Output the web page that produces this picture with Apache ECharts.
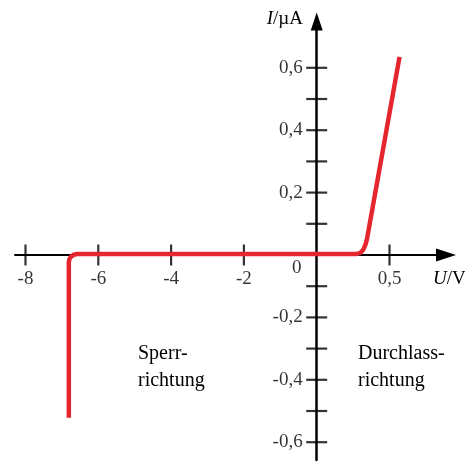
<!DOCTYPE html>
<html><head><meta charset="utf-8">
<script src="https://cdn.jsdelivr.net/npm/echarts@6/dist/echarts.min.js"></script>
<style>html,body{margin:0;padding:0;background:#fff}#c{width:465px;height:462px}</style>
</head><body><div id="c"></div>
<script>
// tick values (U in V, I in µA)
const xTickValues = [-8, -6, -4, -2, 0.5];
const xTickLabels = ['-8', '-6', '-4', '-2', '0,5'];
const yTickValues = [0.6, 0.4, 0.2, -0.2, -0.4, -0.6];
const yTickLabels = ['0,6', '0,4', '0,2', '-0,2', '-0,4', '-0,6'];
const yMinorTickValues = [0.5, 0.3, 0.1, -0.1, -0.3, -0.5];
// diode curve
const curveU = [-6.81, -6.81, -6.793, -6.746, -6.674, -6.59, 0.27, 0.30, 0.32, 0.335, 0.345, 0.569];
const curveI = [-0.522, -0.023, -0.013, -0.005, 0.001, 0.003, 0.003, 0.007, 0.017, 0.033, 0.05, 0.635];

// axis has two scales: 2 V per unit for U<0, 0.5 V per unit for U>0
function tx(u) { return u < 0 ? u / 2 : u * 2; }

const FONT = 'Liberation Serif';
const INK = '#000000';
const RED = '#e6262e';

const chart = echarts.init(document.getElementById('c'), null, {renderer: 'canvas'});
const pxPerUnitX = 72.8, zeroX = 316.7, zeroY = 255, pxPerUnitY = 312;
const gl = 15, gr = 446, gt = 21.5, gb = 460;

chart.setOption({
  animation: false,
  backgroundColor: '#fff',
  grid: {left: gl, right: 465 - gr, top: gt, bottom: 462 - gb, containLabel: false},
  xAxis: {
    type: 'value',
    min: (gl - zeroX) / pxPerUnitX, max: (gr - zeroX) / pxPerUnitX,
    axisLine: {onZero: true, lineStyle: {color: INK, width: 2}, symbol: ['none', 'triangle'], symbolSize: [13, 20]},
    axisTick: {show: false}, axisLabel: {show: false}, splitLine: {show: false}
  },
  yAxis: {
    type: 'value',
    min: -(gb - zeroY) / pxPerUnitY, max: (zeroY - gt) / pxPerUnitY,
    axisLine: {onZero: true, lineStyle: {color: INK, width: 2.5}, symbol: ['none', 'triangle'], symbolSize: [12, 18]},
    axisTick: {show: false}, axisLabel: {show: false}, splitLine: {show: false}
  },
  series: [
    {
      type: 'scatter', silent: true, z: 2,
      symbol: 'rect', symbolSize: [2.2, 21], itemStyle: {color: INK},
      label: {show: true, position: 'inside', offset: [0, 24], color: INK, fontFamily: FONT, fontSize: 19},
      data: xTickValues.map((v, i) => ({value: [tx(v), 0], label: {formatter: xTickLabels[i]}}))
    },
    {
      type: 'scatter', silent: true, z: 2,
      symbol: 'rect', symbolSize: [21, 2.2], itemStyle: {color: INK},
      label: {show: true, position: 'inside', align: 'right', offset: [-14, 0], color: INK, fontFamily: FONT, fontSize: 19},
      data: yTickValues.map((v, i) => ({value: [0, v], label: {formatter: yTickLabels[i]}}))
    },
    {
      type: 'scatter', silent: true, z: 2,
      symbol: 'rect', symbolSize: [21, 2.2], itemStyle: {color: INK},
      data: yMinorTickValues.map(v => [0, v])
    },
    {
      type: 'scatter', silent: true, z: 2,
      symbolSize: 0.01, itemStyle: {color: 'rgba(0,0,0,0)'},
      label: {show: true, position: 'inside', offset: [-20, 13], color: INK, fontFamily: FONT, fontSize: 19, formatter: '0'},
      data: [[0, 0]]
    },
    {
      type: 'line', silent: true, z: 5, symbol: 'none', smooth: false,
      lineStyle: {color: RED, width: 4.5, cap: 'butt', join: 'round'},
      data: curveU.map((u, i) => [tx(u), curveI[i]])
    }
  ],
  graphic: [
    {type: 'text', z: 10, style: {text: '{i|I}/µA', x: 303, y: 19, align: 'right', verticalAlign: 'middle',
      fill: INK, font: '19px "' + FONT + '"', rich: {i: {fontStyle: 'italic', fontFamily: FONT, fontSize: 19, fill: INK}}}},
    {type: 'text', z: 10, style: {text: '{i|U}/V', x: 433, y: 279, align: 'left', verticalAlign: 'middle',
      fill: INK, font: '19px "' + FONT + '"', rich: {i: {fontStyle: 'italic', fontFamily: FONT, fontSize: 19, fill: INK}}}},
    {type: 'text', z: 10, style: {text: 'Sperr-\nrichtung', x: 138, y: 340, align: 'left', verticalAlign: 'top',
      fill: INK, font: '20px "' + FONT + '"', lineHeight: 27}},
    {type: 'text', z: 10, style: {text: 'Durchlass-\nrichtung', x: 358, y: 340, align: 'left', verticalAlign: 'top',
      fill: INK, font: '20px "' + FONT + '"', lineHeight: 27}}
  ]
});
</script></body></html>
